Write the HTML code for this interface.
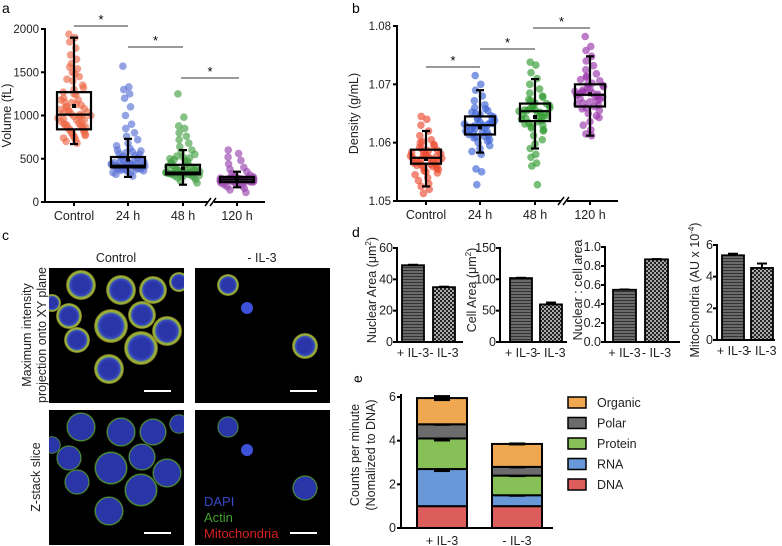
<!DOCTYPE html>
<html><head><meta charset="utf-8"><style>
body{margin:0;background:#fff}
svg{display:block;font-family:"Liberation Sans",sans-serif}
</style></head><body>
<svg id="fig" width="782" height="546" viewBox="0 0 782 546">
<defs>
<pattern id="patA" width="3" height="3" patternUnits="userSpaceOnUse"><rect width="3" height="3" fill="#6a6a6a"/><rect width="3" height="1" fill="#333"/></pattern>
<pattern id="patB" width="4" height="4" patternUnits="userSpaceOnUse"><rect width="4" height="4" fill="#aaa"/><rect width="2" height="2" fill="#222"/><rect x="2" y="2" width="2" height="2" fill="#222"/></pattern>
<radialGradient id="cellG"><stop offset="0.55" stop-color="#2a36a8"/><stop offset="0.72" stop-color="#3848c0"/><stop offset="0.84" stop-color="#8ab83a"/><stop offset="0.93" stop-color="#b0a030"/><stop offset="1" stop-color="#3a5a20"/></radialGradient>
<radialGradient id="cellZ"><stop offset="0.7" stop-color="#2a36a8"/><stop offset="0.85" stop-color="#2a36a8"/><stop offset="0.92" stop-color="#5aa030"/><stop offset="1" stop-color="#000"/></radialGradient>
</defs>
<g id="letters" font-size="14">
<text x="2" y="13">a</text>
<text x="352" y="13">b</text>
<text x="2" y="240">c</text>
<text x="352" y="237">d</text>
<text x="0" y="0" transform="translate(362,383) rotate(-90)">e</text>
</g>
<g id="pa"></g>
<g id="pb"></g>
<g id="pc"></g>
<g id="pd"></g>
<g id="pe"></g>
</svg>
<script>
// ---------- data ----------
const boxCats = ["Control","24 h","48 h","120 h"];
const volQ1 = [840, 400, 320, 230];
const volMed = [1010, 420, 340, 260];
const volQ3 = [1270, 520, 430, 290];
const volMean = [1110, 490, 390, 255];
const volLo = [670, 290, 200, 170];
const volHi = [1900, 730, 600, 350];
const volTicks = [0, 500, 1000, 1500, 2000];
const volDots = [
 [1940,1900,1850,1780,1700,1650,1600,1540,1500,1450,1400,1350,1300,1270,1240,1200,1180,1150,1120,1100,1080,1060,1040,1020,1000,990,970,950,930,910,900,880,860,850,830,810,800,780,760,740,720,700,680,900,1000,1100,950,1050,870,1150,1320,1250,1180,1130,1070,1010,960,920,890,860,840,820,790,770,750,1420,1480,1560,990,1030],
 [1570,1330,1300,1250,1200,1100,1000,900,850,800,760,720,680,650,620,600,580,560,540,520,500,490,480,470,460,450,440,430,420,410,400,400,390,390,380,380,370,360,350,340,330,320,300,420,440,460,410,430,395,405,415,425,435,445,455,465,385,375,365,510,530,550,570,590],
 [1250,980,880,850,800,760,720,680,640,600,580,550,520,500,480,460,440,420,400,390,380,370,360,350,350,340,340,330,330,320,320,310,300,290,280,260,240,220,350,340,360,330,345,325,335,355,365,375,385,315,305,295,410,430,450,470,490,510,530],
 [600,560,520,480,440,400,380,350,330,310,300,290,280,275,270,265,260,258,255,250,248,245,240,235,230,225,220,210,200,190,180,160,140,110,255,262,250,245,268,240,252,258,264,246,238,272,278,284,232,226,270,260,250]
];
const denQ1 = [1.0564, 1.0614, 1.0637, 1.0662];
const denMed = [1.0574, 1.0630, 1.0654, 1.0682];
const denQ3 = [1.0588, 1.0645, 1.0667, 1.0700];
const denMean = [1.0572, 1.0626, 1.0644, 1.0683];
const denLo = [1.0525, 1.0583, 1.0590, 1.0612];
const denHi = [1.0620, 1.0690, 1.0709, 1.0748];
const denTicks = [1.05, 1.06, 1.07, 1.08];
const denDots = [
 [1.0645,1.0640,1.0630,1.0620,1.0612,1.0605,1.0600,1.0595,1.0590,1.0587,1.0584,1.0581,1.0579,1.0577,1.0575,1.0574,1.0572,1.0570,1.0568,1.0566,1.0564,1.0562,1.0560,1.0557,1.0554,1.0550,1.0545,1.0540,1.0535,1.0530,1.0525,1.0520,1.0513,1.0576,1.0571,1.0569,1.0578,1.0573,1.0580,1.0583,1.0586,1.0565,1.0563,1.0561,1.0559,1.0592,1.0597,1.0602,1.0556,1.0552,1.0548],
 [1.0715,1.0700,1.0690,1.0680,1.0672,1.0665,1.0660,1.0655,1.0650,1.0646,1.0642,1.0638,1.0635,1.0632,1.0630,1.0628,1.0625,1.0622,1.0619,1.0616,1.0613,1.0610,1.0605,1.0600,1.0595,1.0590,1.0585,1.0580,1.0555,1.0550,1.0528,1.0631,1.0627,1.0634,1.0624,1.0636,1.0640,1.0644,1.0648,1.0620,1.0617,1.0614,1.0611,1.0652,1.0658,1.0608,1.0603,1.0629,1.0633],
 [1.0738,1.0733,1.0720,1.0710,1.0700,1.0692,1.0685,1.0678,1.0672,1.0667,1.0663,1.0660,1.0657,1.0654,1.0651,1.0648,1.0645,1.0642,1.0638,1.0634,1.0630,1.0625,1.0620,1.0612,1.0605,1.0598,1.0590,1.0580,1.0575,1.0565,1.0560,1.0528,1.0655,1.0650,1.0658,1.0646,1.0661,1.0664,1.0668,1.0640,1.0636,1.0632,1.0652,1.0656,1.0644,1.0674,1.0680,1.0628,1.0622],
 [1.0782,1.0765,1.0758,1.0748,1.0740,1.0732,1.0725,1.0718,1.0712,1.0706,1.0700,1.0696,1.0692,1.0688,1.0685,1.0682,1.0679,1.0676,1.0672,1.0668,1.0664,1.0660,1.0655,1.0650,1.0643,1.0636,1.0630,1.0622,1.0615,1.0612,1.0684,1.0680,1.0690,1.0674,1.0686,1.0678,1.0694,1.0698,1.0670,1.0666,1.0702,1.0708,1.0662,1.0658,1.0683,1.0687,1.0646,1.0714]
];
const dCats = ["+ IL-3","- IL-3"];
const nucArea = [49, 35];   const nucErr = [0.3, 0.3];
const cellArea = [102, 60]; const cellErr = [0.5, 3];
const ratio = [0.55, 0.87]; const ratioErr = [0.003, 0.003];
const mito = [5.35, 4.55];  const mitoErr = [0.1, 0.28];
const nucTicks = [0,20,40,60];
const cellTicks = [0,50,100,150];
const ratioTicks = ["0.0","0.2","0.4","0.6","0.8","1.0"];
const mitoTicks = [0,2,4,6];
const eCats = ["+ IL-3","- IL-3"];
const eSeries = ["DNA","RNA","Protein","Polar","Organic"];
const eDNA = [1.0, 1.0];
const eRNA = [1.7, 0.5];
const eProtein = [1.4, 0.9];
const ePolar = [0.65, 0.4];
const eOrganic = [1.2, 1.05];
const eErr = [[0,0.08,0.08,0.03,0.06],[0,0.03,0.03,0.02,0.02]];
const eTicks = [0,2,4,6];

// ---------- helpers ----------
const NS = "http://www.w3.org/2000/svg";
function mk(parent, tag, attrs, txt){
  const e = document.createElementNS(NS, tag);
  for (const k in attrs) e.setAttribute(k, attrs[k]);
  if (txt !== undefined) e.textContent = txt;
  parent.appendChild(e); return e;
}

// ---------- box/scatter charts ----------
function boxChart(g, o){
  const y = v => o.y0 + (v - o.vmin)/(o.vmax - o.vmin)*(o.y1 - o.y0);
  o.dots.forEach((arr, ci) => {
    arr.forEach((v, i) => {
      const span = o.hw * Math.max(0.3, 1 - Math.abs(v - o.med[ci])/(o.spread));
      const off = (((i*7)%13) - 6)/6 * span;
      const c = mk(g, "circle", {cx: o.cx[ci] + off, cy: y(v), r: 3.8, fill: o.colors[ci], "fill-opacity": 0.65});
      
      
    });
  });
  o.cx.forEach((cx, ci) => {
    const bg = mk(g, "g", {stroke:"#000", "stroke-width":2.2, fill:"none"});
    
    
    mk(bg, "line", {x1:cx, x2:cx, y1:y(o.lo[ci]), y2:y(o.q1[ci])});
    mk(bg, "line", {x1:cx, x2:cx, y1:y(o.q3[ci]), y2:y(o.hi[ci])});
    mk(bg, "line", {x1:cx-4, x2:cx+4, y1:y(o.lo[ci]), y2:y(o.lo[ci])});
    mk(bg, "line", {x1:cx-4, x2:cx+4, y1:y(o.hi[ci]), y2:y(o.hi[ci])});
    mk(bg, "rect", {x:cx-o.bw, y:y(o.q3[ci]), width:2*o.bw, height:y(o.q1[ci])-y(o.q3[ci])});
    mk(bg, "line", {x1:cx-o.bw, x2:cx+o.bw, y1:y(o.med[ci]), y2:y(o.med[ci])});
    mk(bg, "rect", {x:cx-2, y:y(o.mean[ci])-2, width:4, height:4, fill:"#000", stroke:"none"});
  });
  const ax = mk(g, "g", {stroke:"#000", "stroke-width":2, fill:"none"});
  
  
  mk(ax, "line", {x1:o.ax, x2:o.ax, y1:o.y1-1, y2:o.y0+1});
  mk(ax, "line", {x1:o.ax, x2:o.brk-3, y1:o.y0, y2:o.y0});
  mk(ax, "line", {x1:o.brk+3, x2:o.xend, y1:o.y0, y2:o.y0});
  mk(ax, "line", {x1:o.brk-6, x2:o.brk, y1:o.y0+4, y2:o.y0-4, "stroke-width":1.5});
  mk(ax, "line", {x1:o.brk-1, x2:o.brk+5, y1:o.y0+4, y2:o.y0-4, "stroke-width":1.5});
  o.ticks.forEach(t => {
    mk(ax, "line", {x1:o.ax-4, x2:o.ax, y1:y(t), y2:y(t)});
    const tl = mk(g, "text", {x:o.ax-6, y:y(t)+4, "text-anchor":"end", "font-size":11.5, fill:"#222"}, o.fmt(t));
    
    
  });
  o.cx.forEach((cx, ci) => {
    mk(ax, "line", {x1:cx, x2:cx, y1:o.y0, y2:o.y0+4});
    const cl = mk(g, "text", {x:cx, y:o.y0+18, "text-anchor":"middle", "font-size":12.5, fill:"#222"}, boxCats[ci]);
    
    
  });
  const yl = mk(g, "text", {transform:`translate(${o.ylx},${(o.y0+o.y1)/2}) rotate(-90)`, "text-anchor":"middle", "font-size":12.5, fill:"#222"}, o.ytitle);
  
  
  o.sig.forEach(s => {
    const sg = mk(g, "g", {});
    
    
    mk(sg, "line", {x1:s[0], x2:s[1], y1:s[2], y2:s[2], stroke:"#333", "stroke-width":1});
    mk(sg, "text", {x:(s[0]+s[1])/2, y:s[2]-2, "text-anchor":"middle", "font-size":13}, "*");
  });
}
boxChart(document.getElementById("pa"), {
  vmin:0, vmax:2000, y0:202, y1:29, ax:45, xend:265, brk:211,
  cx:[74,128,183,237], bw:17, hw:17, spread:700,
  q1:volQ1, med:volMed, q3:volQ3, mean:volMean, lo:volLo, hi:volHi, dots:volDots,
  ticks:volTicks, fmt:t=>String(t),
  colors:["#ec6a48","#5b72d6","#45a045","#9a45ad"],
  ylx:11, ytitle:"Volume (fL)",
  sig:[[74,128,26],[128,183,47],[181,239,78]]
});
boxChart(document.getElementById("pb"), {
  vmin:1.05, vmax:1.08, y0:201, y1:26, ax:397, xend:618, brk:564,
  cx:[426,480,535,590], bw:15, hw:16, spread:0.009,
  q1:denQ1, med:denMed, q3:denQ3, mean:denMean, lo:denLo, hi:denHi, dots:denDots,
  ticks:denTicks, fmt:t=>t.toFixed(2),
  colors:["#ec4a30","#3c62d4","#2f9a30","#9a35aa"],
  ylx:358, ytitle:"Density (g/mL)",
  sig:[[426,480,67],[480,535,49],[533,590,28]]
});

// ---------- microscopy (illustrative) ----------
(function(){
  const g = document.getElementById("pc");
  const t1 = mk(g, "text", {x:116, y:262, "text-anchor":"middle", "font-size":12.5, fill:"#222"}, "Control");
   
  const t2 = mk(g, "text", {x:262, y:262, "text-anchor":"middle", "font-size":12.5, fill:"#222"}, "- IL-3");
   
  const rl = mk(g, "g", {});
   
  mk(rl, "text", {transform:"translate(31,335) rotate(-90)", "text-anchor":"middle", "font-size":12.5, fill:"#222"}, "Maximum intensity");
  mk(rl, "text", {transform:"translate(46,335) rotate(-90)", "text-anchor":"middle", "font-size":12.5, fill:"#222"}, "projection onto XY plane");
  const r2 = mk(g, "text", {transform:"translate(40,477) rotate(-90)", "text-anchor":"middle", "font-size":12.5, fill:"#222"}, "Z-stack slice");
   
  const imgs = [[49,268,"g"],[195,268,"g"],[49,410,"z"],[195,410,"z"]];
  const cellsC = [[32,17,15],[72,22,15],[104,22,14],[20,48,13],[62,58,17],[93,47,14],[118,63,15],[92,80,17],[28,72,13],[60,101,15],[130,14,10],[3,35,9]];
  const cellsI = [[33,17,11],[110,78,13]];
  imgs.forEach((im, k) => {
    const ig = mk(g, "g", {});
    
    
    mk(ig, "rect", {x:im[0], y:im[1], width:135, height:135, fill:"#000"});
    mk(ig, "svg", {x:im[0], y:im[1], width:135, height:135});
    const inner = ig.lastChild;
    const cells = (k % 2 === 0) ? cellsC : cellsI;
    cells.forEach(c => mk(inner, "circle", {cx:c[0], cy:c[1], r:c[2], fill: im[2]==="g" ? "url(#cellG)" : "url(#cellZ)"}));
    if (k % 2 === 1) mk(inner, "circle", {cx:52, cy:40, r:6, fill:"#3c50d8"});
    mk(ig, "line", {x1:im[0]+95, x2:im[0]+122, y1:im[1]+123, y2:im[1]+123, stroke:"#fff", "stroke-width":2});
  });
  const lg = mk(g, "g", {"font-size":13});
   
  mk(lg, "text", {x:204, y:506, fill:"#3848c8"}, "DAPI");
  mk(lg, "text", {x:204, y:522, fill:"#40a030"}, "Actin");
  mk(lg, "text", {x:204, y:538, fill:"#d82020"}, "Mitochondria");
})();

// ---------- panel d ----------
function barChart(o){
  const g = mk(document.getElementById("pd"), "g", {});
  
  
  const y = v => o.y0 - v/o.vmax*(o.y0 - o.y1);
  o.vals.forEach((v, i) => {
    const b = mk(g, "rect", {x:o.bx[i], y:y(v), width:o.bwid, height:o.y0-y(v), fill: i===0?"url(#patA)":"url(#patB)", stroke:"#000", "stroke-width":1.8});
    
    
    const cx = o.bx[i] + o.bwid/2;
    mk(g, "line", {x1:cx, x2:cx, y1:y(v), y2:y(v+o.err[i]), stroke:"#000", "stroke-width":2});
    mk(g, "line", {x1:cx-5, x2:cx+5, y1:y(v+o.err[i]), y2:y(v+o.err[i]), stroke:"#000", "stroke-width":2});
    const tl = mk(g, "text", {x:cx, y:o.y0+15, "text-anchor":"middle", "font-size":12.5, fill:"#222"}, dCats[i]);
     
  });
  mk(g, "line", {x1:o.ax, x2:o.ax, y1:o.y1-1, y2:o.y0+1, stroke:"#000", "stroke-width":2});
  mk(g, "line", {x1:o.ax, x2:o.xend, y1:o.y0, y2:o.y0, stroke:"#000", "stroke-width":2});
  o.ticks.forEach(t => {
    const v = parseFloat(t);
    mk(g, "line", {x1:o.ax-4, x2:o.ax, y1:y(v), y2:y(v), stroke:"#000", "stroke-width":2});
    const tl = mk(g, "text", {x:o.ax-4, y:y(v)+4, "text-anchor":"end", "font-size":12.5, fill:"#222"}, String(t));
     
  });
  const yl = mk(g, "text", {transform:`translate(${o.ylx},${o.ylc}) rotate(-90)`, "text-anchor":"middle", "font-size":12.5, fill:"#222"});
  yl.innerHTML = o.title;
   
}
barChart({name:"nuclear-area-chart", vals:nucArea, err:nucErr, vmax:60, y0:342, y1:248, ax:397, xend:463, bx:[402,433], bwid:22, ticks:nucTicks, ylx:376, ylc:290, title:'Nuclear Area (μm<tspan dy="-5" font-size="8">2</tspan><tspan dy="5">)</tspan>'});
barChart({name:"cell-area-chart", vals:cellArea, err:cellErr, vmax:150, y0:342, y1:248, ax:500, xend:567, bx:[510,540], bwid:22, ticks:cellTicks, ylx:476, ylc:290, title:'Cell Area (μm<tspan dy="-5" font-size="8">2</tspan><tspan dy="5">)</tspan>'});
barChart({name:"nuclear-cell-ratio-chart", vals:ratio, err:ratioErr, vmax:1.0, y0:342, y1:247, ax:605, xend:680, bx:[613,645], bwid:23, ticks:ratioTicks, ylx:582, ylc:290, title:'Nuclear : cell area'});
barChart({name:"mitochondria-chart", vals:mito, err:mitoErr, vmax:6, y0:340, y1:245, ax:717, xend:775, bx:[722,751], bwid:22, ticks:mitoTicks, ylx:699, ylc:290, title:'Mitochondria (AU x 10<tspan dy="-5" font-size="8">-4</tspan><tspan dy="5">)</tspan>'});

// ---------- panel e ----------
(function(){
  const g = document.getElementById("pe");
  const y0 = 528, y1 = 397, vmax = 6;
  const y = v => y0 - v/vmax*(y0-y1);
  const series = [eDNA, eRNA, eProtein, ePolar, eOrganic];
  const colors = ["#dd5c5c","#6898d8","#88c058","#6c6c6c","#f0a850"];
  const bx = [417, 492], bw = 50;
  eCats.forEach((c, i) => {
    let acc = 0;
    series.forEach((s, k) => {
      const r = mk(g, "rect", {x:bx[i], y:y(acc+s[i]), width:bw, height:y(acc)-y(acc+s[i]), fill:colors[k], stroke:"#000", "stroke-width":2});
      
      
      acc += s[i];
      const e = eErr[i][k];
      if (e > 0) {
        const cx = bx[i] + bw/2;
        const h = Math.max(e > 0.04 ? 6 : 3, y(acc-e)-y(acc+e));
        const ym = y(acc);
        mk(g, "rect", {x:cx-8, y:ym-h/2, width:16, height:h, fill:"#000"});
      }
    });
    const tl = mk(g, "text", {x:bx[i]+bw/2, y:545, "text-anchor":"middle", "font-size":12.5, fill:"#222"}, c);
     
  });
  mk(g, "line", {x1:401, x2:401, y1:y1-3, y2:y0+1, stroke:"#000", "stroke-width":2});
  mk(g, "line", {x1:401, x2:553, y1:y0, y2:y0, stroke:"#000", "stroke-width":2});
  eTicks.forEach(t => {
    mk(g, "line", {x1:397, x2:401, y1:y(t), y2:y(t), stroke:"#000", "stroke-width":2});
    const tl = mk(g, "text", {x:396, y:y(t)+4, "text-anchor":"end", "font-size":12.5, fill:"#222"}, String(t));
     
  });
  const yl = mk(g, "g", {});
   
  mk(yl, "text", {transform:"translate(359,455) rotate(-90)", "text-anchor":"middle", "font-size":12.5, fill:"#222"}, "Counts per minute");
  mk(yl, "text", {transform:"translate(375,455) rotate(-90)", "text-anchor":"middle", "font-size":12.5, fill:"#222"}, "(Nomalized to DNA)");
  const order = [4,3,2,1,0];
  order.forEach((k, j) => {
    const lg = mk(g, "g", {});
    
    
    mk(lg, "rect", {x:568, y:397+j*20.5, width:18, height:11, fill:colors[k], stroke:"#000", "stroke-width":1.5});
    mk(lg, "text", {x:597, y:407+j*20.5, "font-size":12.5, fill:"#222"}, eSeries[k]);
  });
})();
</script>
</body></html>
